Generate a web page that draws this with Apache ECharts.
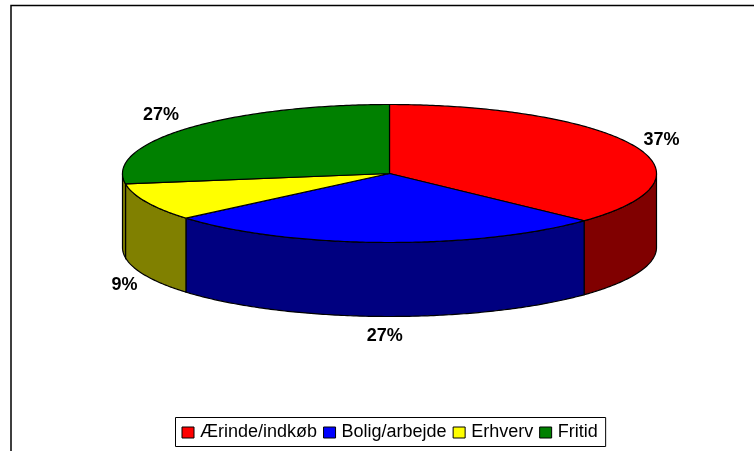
<!DOCTYPE html>
<html>
<head>
<meta charset="utf-8">
<style>html,body{margin:0;padding:0;background:#fff}#c{width:754px;height:451px}</style>
<script src="https://cdn.jsdelivr.net/npm/echarts@6/dist/echarts.min.js"></script>
</head>
<body>
<div id="c"></div>
<script>
const categories = ['Ærinde/indkøb', 'Bolig/arbejde', 'Erhverv', 'Fritid'];
const values = [37, 26.8, 8.8, 27.4];
const topColors = ['#FF0000', '#0000FF', '#FFFF00', '#008000'];
const wallColors = ['#800000', '#000080', '#808000', '#808000'];
const labelOffsets = [[27, -6], [2, 94], [-22, 83], [-26, -13]];

const PIE = { cx: 389.5, cy: 173.5, rx: 267, ry: 69, depth: 74 };
const FONT = '"Liberation Sans", Arial, sans-serif';
const total = values.reduce((a, b) => a + b, 0);

const toXY = (deg, dy) => {
  const r = deg * Math.PI / 180;
  return [PIE.cx + PIE.rx * Math.sin(r), PIE.cy - PIE.ry * Math.cos(r) + (dy || 0)];
};
const arc = (a0, a1, dy) => {
  const pts = [];
  const n = Math.max(2, Math.ceil((a1 - a0) * 1.5));
  for (let i = 0; i <= n; i++) pts.push(toXY(a0 + (a1 - a0) * i / n, dy));
  return pts;
};

function renderSlice(params, api) {
  const i = params.seriesIndex;
  const before = values.slice(0, i).reduce((a, b) => a + b, 0);
  const a0 = before / total * 360;
  const a1 = a0 + api.value(0) / total * 360;
  const stroke = { stroke: '#000', lineWidth: 1.2 };
  const children = [];
  const w0 = Math.max(a0, 90), w1 = Math.min(a1, 270);
  if (w1 > w0) {
    children.push({
      type: 'polygon',
      shape: { points: arc(w0, w1, 0).concat(arc(w0, w1, PIE.depth).reverse()) },
      style: Object.assign({ fill: wallColors[i] }, stroke)
    });
  }
  children.push({
    type: 'polygon',
    shape: { points: [[PIE.cx, PIE.cy]].concat(arc(a0, a1, 0)) },
    style: Object.assign({ fill: topColors[i] }, stroke)
  });
  const mid = toXY((a0 + a1) / 2, 0);
  children.push({
    type: 'text',
    z2: 10,
    style: {
      x: mid[0] + labelOffsets[i][0],
      y: mid[1] + labelOffsets[i][1],
      text: Math.round(api.value(0)) + '%',
      font: 'bold 18px ' + FONT,
      fill: '#000',
      align: 'center',
      verticalAlign: 'middle'
    }
  });
  return { type: 'group', children };
}

const chart = echarts.init(document.getElementById('c'), null, { renderer: 'canvas' });
chart.setOption({
  animation: false,
  backgroundColor: '#fff',
  graphic: [{
    type: 'polyline',
    silent: true,
    shape: { points: [[11, 451], [11, 5.5], [754, 5.5]] },
    style: { stroke: '#000', lineWidth: 1.5, fill: null }
  }],
  legend: {
    show: true,
    left: 175.5,
    top: 417.5,
    orient: 'horizontal',
    selectedMode: false,
    data: categories,
    icon: 'rect',
    itemWidth: 12,
    itemHeight: 11,
    itemGap: 6,
    padding: [6, 8, 5, 6],
    backgroundColor: '#fff',
    borderColor: '#000',
    borderWidth: 1,
    borderRadius: 0,
    itemStyle: { borderColor: '#000', borderWidth: 1 },
    textStyle: { color: '#000', fontFamily: FONT, fontSize: 18, padding: [2, 0, 0, 1] }
  },
  series: categories.map((name, i) => ({
    type: 'custom',
    name,
    coordinateSystem: 'none',
    renderItem: renderSlice,
    itemStyle: { color: topColors[i] },
    data: [[values[i]]]
  }))
});
</script>
</body>
</html>
